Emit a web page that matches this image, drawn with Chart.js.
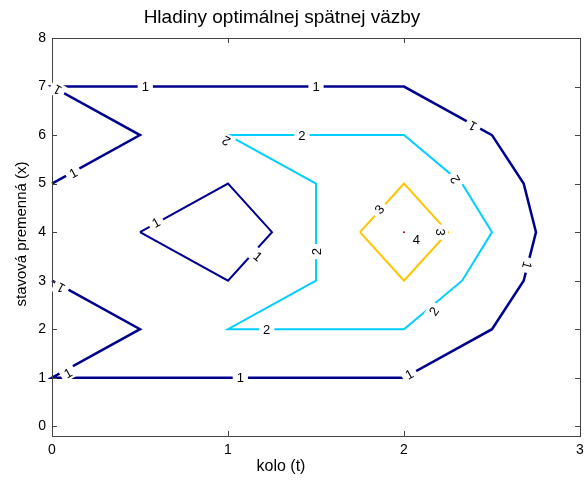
<!DOCTYPE html>
<html>
<head>
<meta charset="utf-8">
<script src="https://cdn.jsdelivr.net/npm/chart.js@4.4.1/dist/chart.umd.min.js"></script>
<style>
body { margin: 0; background: #fff; }
</style>
</head>
<body>
<canvas id="contourChart" width="584" height="485"></canvas>
<script>
var xTicks = [0, 1, 2, 3];
var yTicks = [0, 1, 2, 3, 4, 5, 6, 7, 8];
var chartTitle = 'Hladiny optimálnej spätnej väzby';
var xTitle = 'kolo (t)';
var yTitle = 'stavová premenná (x)';

// contour lines, points as [t, x]
var level1Outer = [[0, 5], [0.5, 6], [0, 7], [2, 7], [2.5, 6], [2.68, 5], [2.75, 4], [2.68, 3], [2.5, 2], [2, 1], [0, 1], [0.5, 2], [0, 3]];
var level1Inner = [[0.5, 4], [1, 5], [1.25, 4], [1, 3], [0.5, 4]];
var level2Ring = [[1, 6], [2, 6], [2.33, 5], [2.5, 4], [2.33, 3], [2, 2], [1, 2], [1.5, 3], [1.5, 5], [1, 6]];
var level3Ring = [[1.75, 4], [2, 5], [2.25, 4], [2, 3], [1.75, 4]];
var level4Peak = [[2, 4]];

// inline contour labels: [t, x, text, rotation in degrees]
var contourLabels = [
	[0.53, 7, '1', 0],
	[1.5, 7, '1', 0],
	[0.03, 6.93, '1', 209],
	[0.12, 5.22, '1', -29],
	[0.59, 4.2, '1', -29],
	[1.17, 3.5, '1', 40],
	[0.05, 2.85, '1', 209],
	[0.09, 1.1, '1', -29],
	[1.07, 1, '1', 0],
	[2.03, 1.07, '1', -29],
	[2.39, 6.18, '1', 209],
	[2.7, 3.32, '1', 105],
	[1.42, 6, '2', 0],
	[0.99, 5.88, '2', 209],
	[1.5, 3.6, '2', -90],
	[1.22, 2, '2', 0],
	[2.29, 5.08, '2', 240],
	[2.17, 2.37, '2', -55],
	[1.86, 4.47, '3', -50],
	[2.21, 4, '3', 90],
	[2.07, 3.86, '4', 0]
];

var navy = '#00008f';
var cyan = '#00cfff';
var gold = '#ffc400';
var fontFamily = '"Liberation Sans", Arial, sans-serif';

function toPoints(arr) {
	return arr.map(function (p) { return { x: p[0], y: p[1] }; });
}

function lineSet(arr, color, width) {
	return {
		data: toPoints(arr),
		showLine: true,
		borderColor: color,
		borderWidth: width,
		pointRadius: 0,
		fill: false,
		tension: 0,
		clip: 4
	};
}

Chart.defaults.font.family = fontFamily;
Chart.defaults.color = '#000';

var boxAndTicks = {
	id: 'boxAndTicks',
	afterDatasetsDraw: function (chart) {
		var ctx = chart.ctx;
		var a = chart.chartArea;
		var xs = chart.scales.x;
		var ys = chart.scales.y;
		var len = 5;
		ctx.save();
		ctx.strokeStyle = '#444';
		ctx.lineWidth = 1;
		ctx.beginPath();
		xTicks.forEach(function (v) {
			var px = Math.round(xs.getPixelForValue(v)) + 0.5;
			ctx.moveTo(px, a.bottom); ctx.lineTo(px, a.bottom - len);
			ctx.moveTo(px, a.top); ctx.lineTo(px, a.top + len);
		});
		yTicks.forEach(function (v) {
			var py = Math.round(ys.getPixelForValue(v)) + 0.5;
			ctx.moveTo(a.left, py); ctx.lineTo(a.left + len, py);
			ctx.moveTo(a.right, py); ctx.lineTo(a.right - len, py);
		});
		ctx.stroke();
		ctx.strokeRect(Math.round(a.left) + 0.5, Math.round(a.top) + 0.5,
			Math.round(a.right - a.left), Math.round(a.bottom - a.top));

		// contour labels with a white gap under them
		ctx.font = '13px ' + fontFamily;
		ctx.textAlign = 'center';
		ctx.textBaseline = 'middle';
		contourLabels.forEach(function (l) {
			var px = xs.getPixelForValue(l[0]);
			var py = ys.getPixelForValue(l[1]);
			var w = ctx.measureText(l[2]).width;
			ctx.save();
			ctx.translate(px, py);
			ctx.rotate(l[3] * Math.PI / 180);
			if (l[2] !== '4') {
				ctx.fillStyle = '#fff';
				ctx.fillRect(-w / 2 - 4, -7, w + 8, 14);
			}
			ctx.fillStyle = '#000';
			ctx.fillText(l[2], 0, 1);
			ctx.restore();
		});

		// titles (MATLAB centres them on the figure, not the axes)
		ctx.fillStyle = '#000';
		ctx.font = '19px ' + fontFamily;
		ctx.fillText(chartTitle, 282, 18);
		ctx.font = '16px ' + fontFamily;
		ctx.fillText(xTitle, 281, 467);
		ctx.save();
		ctx.translate(22, 234);
		ctx.rotate(-Math.PI / 2);
		ctx.font = '15px ' + fontFamily;
		ctx.fillText(yTitle, 0, 0);
		ctx.restore();
		ctx.restore();
	}
};

var chart = new Chart(document.getElementById('contourChart'), {
	type: 'scatter',
	data: {
		datasets: [
			lineSet(level1Outer, navy, 2.5),
			lineSet(level1Inner, navy, 2),
			lineSet(level2Ring, cyan, 2),
			lineSet(level3Ring, gold, 2),
			{
				data: toPoints(level4Peak),
				showLine: false,
				pointRadius: 1,
				pointBorderWidth: 0,
				backgroundColor: '#b00000'
			}
		]
	},
	options: {
		responsive: false,
		devicePixelRatio: 1,
		animation: false,
		layout: { padding: { top: 38, right: 0 } },
		plugins: {
			legend: { display: false },
			tooltip: { enabled: false },
			title: { display: false }
		},
		scales: {
			x: {
				type: 'linear',
				min: 0,
				max: 3,
				afterBuildTicks: function (s) { s.ticks = xTicks.map(function (v) { return { value: v }; }); },
				afterFit: function (s) { s.height = 49; s.paddingRight = 4; },
				grid: { display: false, drawTicks: false },
				border: { display: false },
				ticks: { padding: 6, font: { size: 14 }, color: '#000' }
			},
			y: {
				type: 'linear',
				min: -0.2,
				max: 8,
				afterBuildTicks: function (s) { s.ticks = yTicks.map(function (v) { return { value: v }; }); },
				afterFit: function (s) { s.width = 52; },
				grid: { display: false, drawTicks: false },
				border: { display: false },
				ticks: { padding: 6, font: { size: 14 }, color: '#000' }
			}
		}
	},
	plugins: [boxAndTicks]
});
</script>
</body>
</html>
